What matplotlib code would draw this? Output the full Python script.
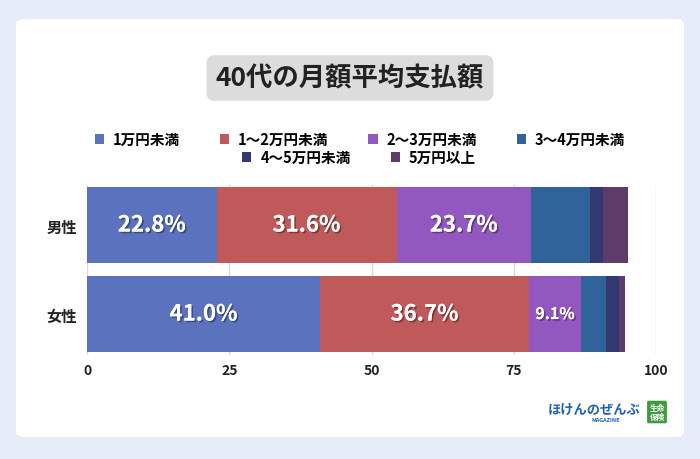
import matplotlib
matplotlib.use("Agg")
import matplotlib.pyplot as plt
import matplotlib.patheffects as pe
from matplotlib.patches import FancyBboxPatch, Patch

plt.rcParams['font.family'] = ['Noto Sans CJK JP', 'DejaVu Sans']
plt.rcParams['font.weight'] = 'bold'

# データ
groups = ['女性', '男性']
series = ['1万円未満', '1～2万円未満', '2～3万円未満', '3～4万円未満', '4～5万円未満', '5万円以上']
female = [41.0, 36.7, 9.1, 4.4, 2.3, 1.1]
male = [22.8, 31.6, 23.7, 10.3, 2.3, 4.4]
colors = ['#5b72bf', '#c0595a', '#9357c0', '#2f6399', '#333a72', '#5f3b69']
ticks = [0, 25, 50, 75, 100]

fig = plt.figure(figsize=(7, 4.6), dpi=100)
fig.patch.set_facecolor('#e7edf8')

# 白いカード
card = FancyBboxPatch((16 / 700, 22 / 460), 668 / 700, 418 / 460,
                      boxstyle='round,pad=0,rounding_size=0.012',
                      transform=fig.transFigure, facecolor='white', edgecolor='none', zorder=-10)
fig.patches.append(card)

# タイトル
fig.text(0.5, 1 - 79 / 460, '40代の月額平均支払額', ha='center', va='center',
         fontsize=19, fontweight='bold', color='#222222', zorder=2,
         bbox=dict(boxstyle='round,pad=0.35,rounding_size=0.3', facecolor='#dcdcdc', edgecolor='none'))

ax = fig.add_axes([87 / 700, 1 - 356 / 460, 569 / 700, 170 / 460])
ax.set_facecolor('none')

data = [female, male]
shadow = [pe.withSimplePatchShadow(offset=(1.2, -1.2), alpha=0.35, shadow_rgbFace='black'), pe.Normal()]
handles = []
for i, name in enumerate(series):
    vals = [d[i] for d in data]
    lefts = [sum(d[:i]) for d in data]
    ax.barh([0, 1], vals, left=lefts, height=0.855, color=colors[i], zorder=3)
    handles.append(Patch(facecolor=colors[i], label=name))
    if i > 2:
        continue  # 3万円以上はラベルなし
    for y, v, l in zip([0, 1], vals, lefts):
        fs = 16 if v >= 20 else 11.5
        ax.text(l + v / 2, y, f'{v:.1f}%', ha='center', va='center', color='white',
                fontsize=fs, fontweight='bold', zorder=5, path_effects=shadow)

ax.set_xlim(0, 100)
ax.set_ylim(-0.46, 1.45)
ax.set_xticks(ticks)
ax.set_xticklabels([str(t) for t in ticks], fontsize=10, fontweight='bold', color='#222222')
ax.set_yticks([0, 1])
ax.set_yticklabels(groups, fontsize=11, fontweight='bold', color='#222222')
ax.tick_params(axis='x', length=0, pad=6)
ax.tick_params(axis='y', length=0, pad=7)
for s in ax.spines.values():
    s.set_visible(False)
ax.grid(axis='x', color='#d9d9d9', linewidth=1, zorder=0)

# 凡例 (2段)
leg_kw = dict(frameon=False, handlelength=0.62, handleheight=0.62, handletextpad=0.62,
              columnspacing=2.75, borderpad=0, prop={'weight': 'bold', 'size': 10.5})
fig.legend(handles=handles[:4], ncol=4, loc='center', bbox_to_anchor=(360 / 700, 1 - 140 / 460), **leg_kw)
fig.legend(handles=handles[4:], ncol=2, loc='center', bbox_to_anchor=(359 / 700, 1 - 158 / 460), **leg_kw)

# ロゴ
fig.text(548 / 700, 1 - 410 / 460, 'ほけんのぜんぶ', ha='left', va='center',
         fontsize=9.5, fontweight='bold', color='#2360b0')
fig.text(592 / 700, 1 - 421 / 460, 'MAGAZINE', ha='left', va='center',
         fontsize=4, fontweight='bold', color='#2360b0')
fig.text(657 / 700, 1 - 413 / 460, '生命\n保険', ha='center', va='center', linespacing=1.0,
         fontsize=5.5, fontweight='bold', color='white',
         bbox=dict(boxstyle='round,pad=0.3,rounding_size=0.2', facecolor='#3f9b3f', edgecolor='none'))

fig.savefig('out.png', dpi=100, facecolor=fig.get_facecolor())
